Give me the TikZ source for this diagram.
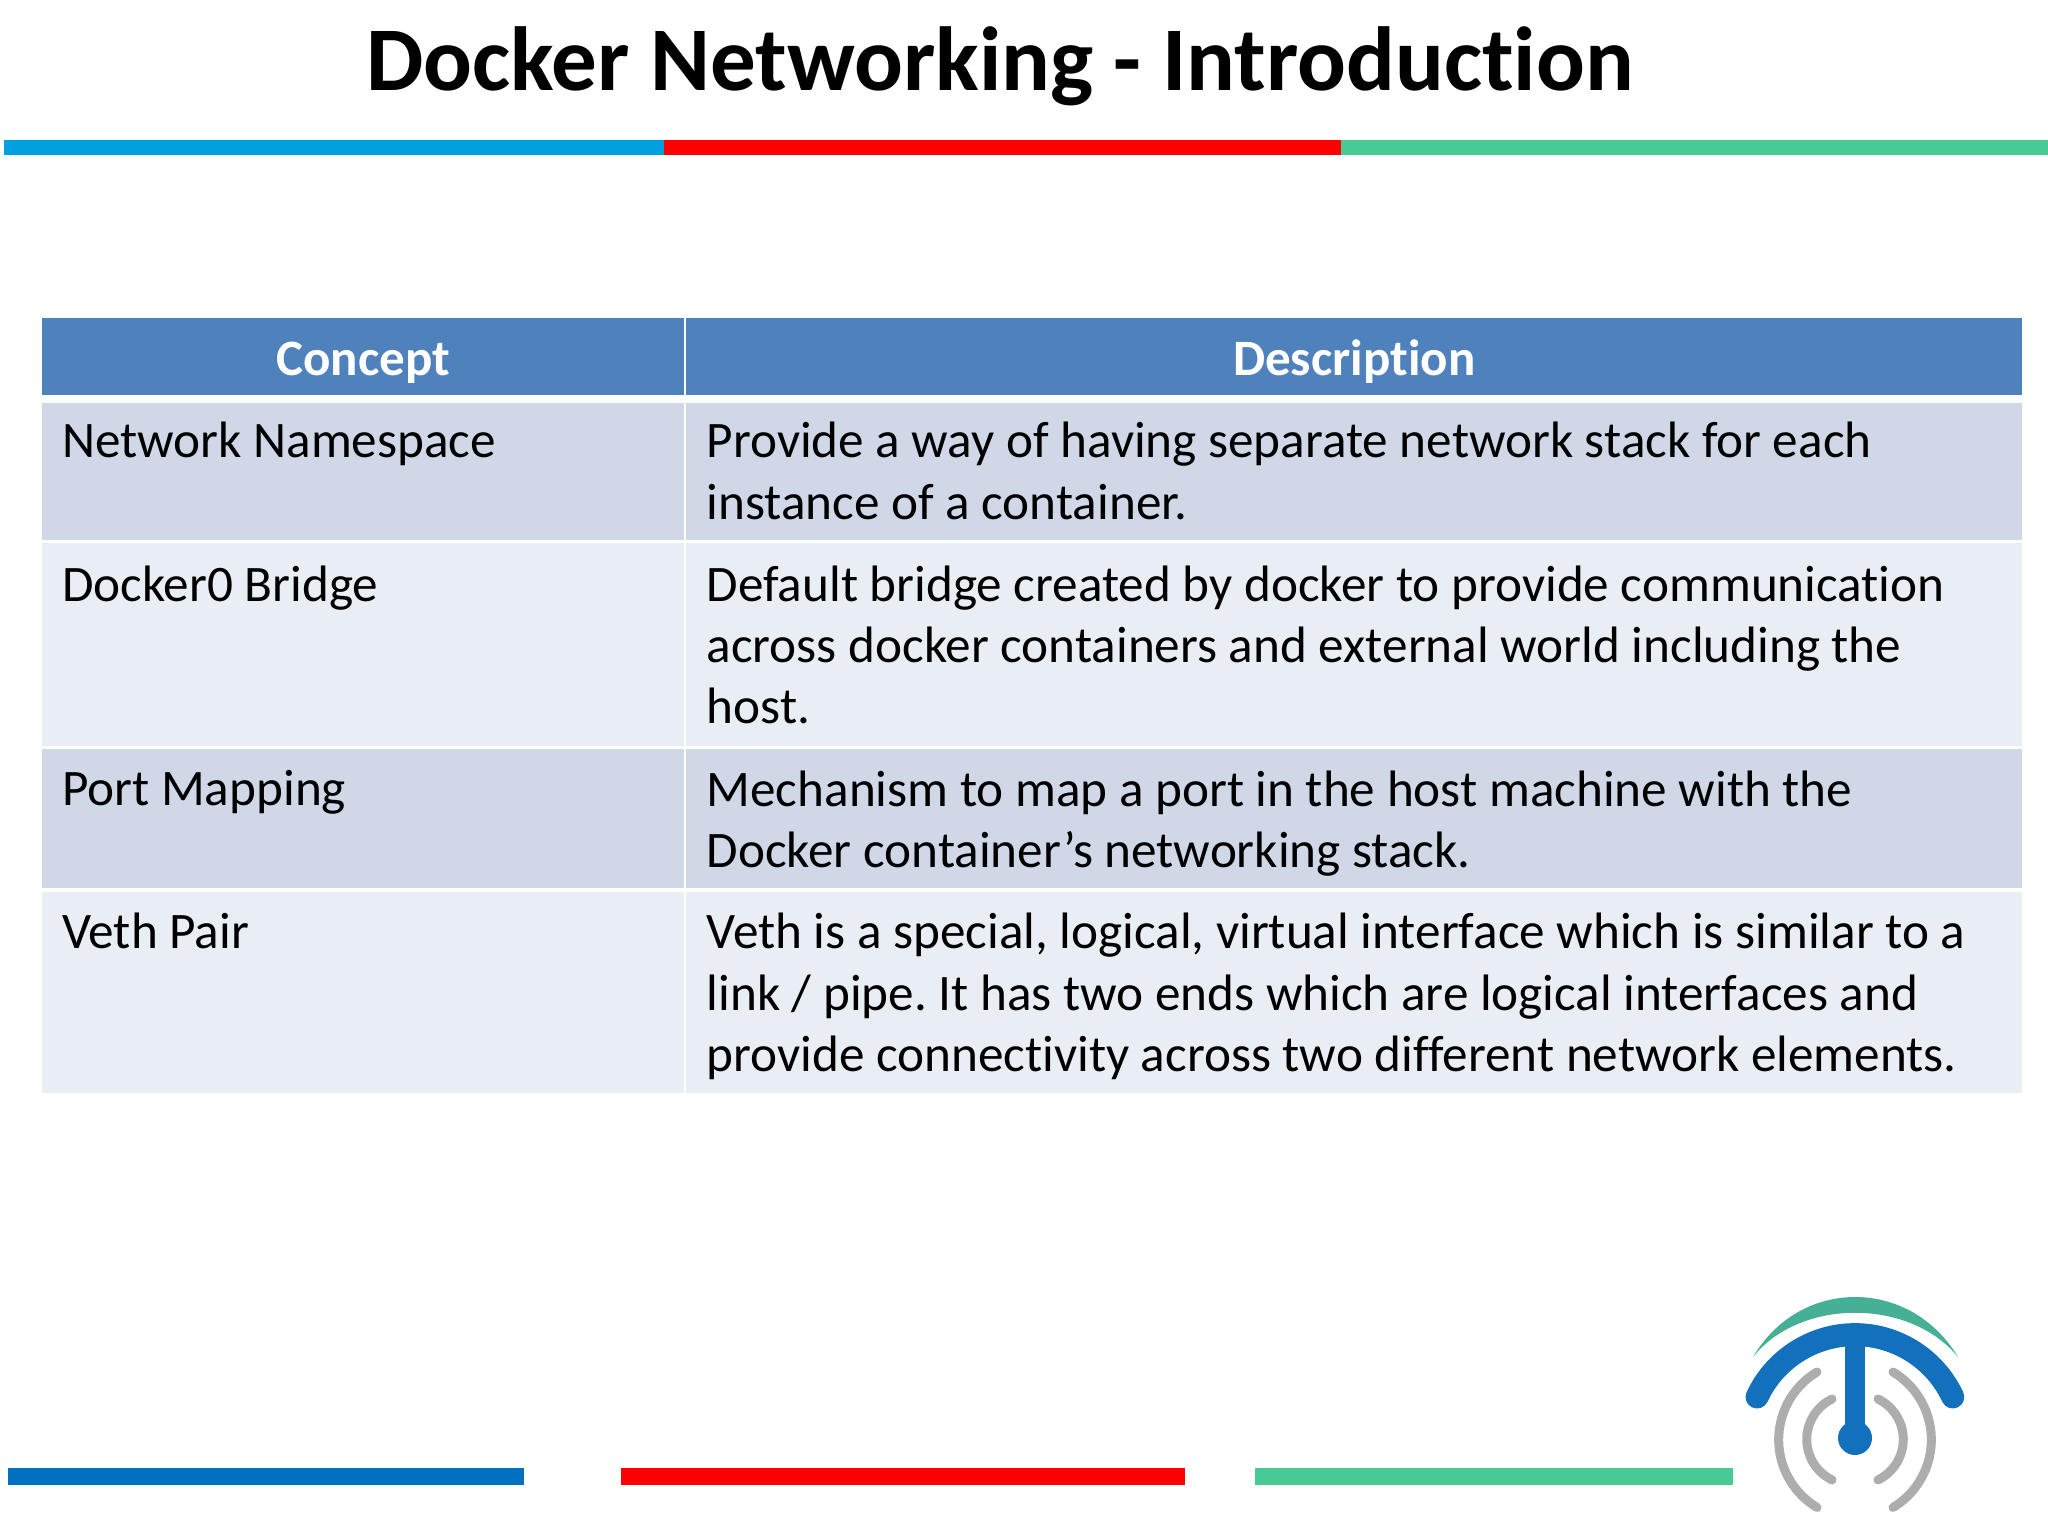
\documentclass[tikz,border=0pt]{standalone}
\usepackage{fontspec}
\setmainfont{Carlito}[Ligatures=CommonOff]
\usepackage{tikz}
\definecolor{topblue}{HTML}{00A0E0}
\definecolor{lowblue}{HTML}{0070C0}
\definecolor{barred}{HTML}{FF0000}
\definecolor{bargreen}{HTML}{47CB94}
\definecolor{headblue}{HTML}{4F81BD}
\definecolor{rowdark}{HTML}{D0D8E8}
\definecolor{rowlight}{HTML}{E9EDF4}
\definecolor{logoblue}{HTML}{1370BC}
\definecolor{logogreen}{HTML}{45B095}
\definecolor{logogray}{HTML}{ADADAD}
\tikzstyle{head} = [rectangle, anchor=north west, inner sep=0pt, fill=headblue, text=white, text height=37pt, text depth=0pt, font=\fontsize{51}{61}\selectfont\bfseries]
\tikzstyle{cell} = [rectangle, anchor=north west, inner sep=0pt]
\tikzstyle{txt} = [anchor=north west, inner sep=0pt, align=left, font=\fontsize{51.2}{61.3}\selectfont\frenchspacing]
\tikzstyle{bar} = [rectangle, anchor=north west, inner sep=0pt]
\tikzstyle{wave} = [logogray, line width=9pt, line cap=round]

\begin{document}
\begin{tikzpicture}[x=1pt,y=-1pt]
	\useasboundingbox (0,0) rectangle (2048,1536);
	\node (title) [anchor=base, inner sep=0pt, font=\fontsize{91}{110}\selectfont\bfseries] at (1000,91) {Docker Networking - Introduction};
	% top bars
	\node (top1) [bar, fill=topblue, minimum width=660pt, minimum height=15pt] at (4,140) {};
	\node (top2) [bar, fill=barred, minimum width=677pt, minimum height=15pt] at (664,140) {};
	\node (top3) [bar, fill=bargreen, minimum width=707pt, minimum height=15pt] at (1341,140) {};
	% table
	\node (con0) [head, minimum width=642pt, minimum height=77pt] at (42,318) {Concept};
	\node (des0) [head, minimum width=1336pt, minimum height=77pt] at (686,318) {Description};
	\node (con1) [cell, fill=rowdark, minimum width=642pt, minimum height=137pt] at (42,403) {};
	\node (des1) [cell, fill=rowdark, minimum width=1336pt, minimum height=137pt] at (686,403) {};
	\node (con2) [cell, fill=rowlight, minimum width=642pt, minimum height=203pt] at (42,543) {};
	\node (des2) [cell, fill=rowlight, minimum width=1336pt, minimum height=203pt] at (686,543) {};
	\node (con3) [cell, fill=rowdark, minimum width=642pt, minimum height=139pt] at (42,749) {};
	\node (des3) [cell, fill=rowdark, minimum width=1336pt, minimum height=139pt] at (686,749) {};
	\node (con4) [cell, fill=rowlight, minimum width=642pt, minimum height=201pt] at (42,892) {};
	\node (des4) [cell, fill=rowlight, minimum width=1336pt, minimum height=201pt] at (686,892) {};
	\node (ctxt1) [txt] at ([shift={(20pt,-19pt)}]con1.north west) {Network Namespace};
	\node (dtxt1) [txt] at ([shift={(20.5pt,-19pt)}]des1.north west) {Provide a way of having separate network stack for each\\instance of a container.};
	\node (ctxt2) [txt] at ([shift={(20pt,-22.5pt)}]con2.north west) {Docker0 Bridge};
	\node (dtxt2) [txt] at ([shift={(20.5pt,-22.5pt)}]des2.north west) {Default bridge created by docker to provide communication\\across docker containers and external world including the\\host.};
	\node (ctxt3) [txt] at ([shift={(20pt,-21.5pt)}]con3.north west) {Port Mapping};
	\node (dtxt3) [txt] at ([shift={(20.5pt,-21.5pt)}]des3.north west) {Mechanism to map a port in the host machine with the\\Docker container’s networking stack.};
	\node (ctxt4) [txt] at ([shift={(20pt,-21pt)}]con4.north west) {Veth Pair};
	\node (dtxt4) [txt] at ([shift={(20.5pt,-21pt)}]des4.north west) {Veth is a special, logical, virtual interface which is similar to a\\link / pipe. It has two ends which are logical interfaces and\\provide connectivity across two different network elements.};
	% bottom bars
	\node (low1) [bar, fill=lowblue, minimum width=516pt, minimum height=17pt] at (8,1468) {};
	\node (low2) [bar, fill=barred, minimum width=564pt, minimum height=17pt] at (621,1468) {};
	\node (low3) [bar, fill=bargreen, minimum width=478pt, minimum height=17pt] at (1255,1468) {};
	% logo
	\fill [logogreen] (1753,1357) .. controls (1800,1277) and (1910,1277) .. (1958,1357) .. controls (1910,1298) and (1800,1298) .. cycle;
	\draw [logoblue, line width=23pt, line cap=round] (1757,1397) arc[start angle=155, end angle=25, radius=108pt];
	\draw [logoblue, line width=20pt] (1855,1338) -- (1855,1438);
	\fill [logoblue] (1855,1438) circle[radius=17pt];
	\draw [wave] (1817,1372) arc[start angle=121, end angle=239, radius=79pt];
	\draw [wave] (1893,1372) arc[start angle=59, end angle=-59, radius=79pt];
	\draw [wave] (1832,1399) arc[start angle=116, end angle=244, radius=45pt];
	\draw [wave] (1878,1399) arc[start angle=64, end angle=-64, radius=45pt];
\end{tikzpicture}
\end{document}
